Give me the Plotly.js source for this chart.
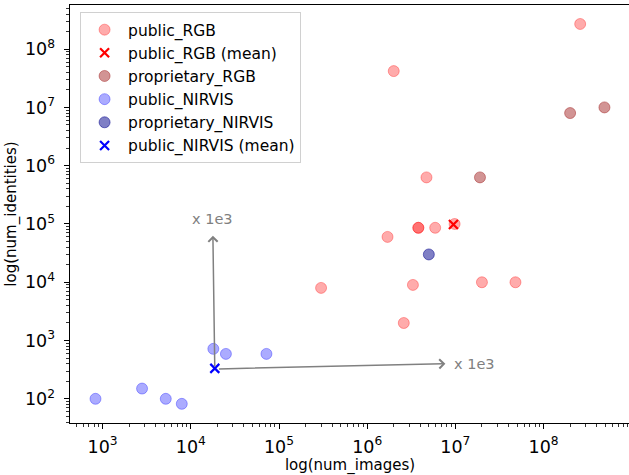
<!DOCTYPE html>
<html>
<head>
<meta charset="utf-8">
<script src="https://cdn.plot.ly/plotly-3.0.1.min.js"></script>
<style>
html,body{margin:0;padding:0;overflow:hidden;background:#fff;}
#chart{width:640px;height:475px;}
</style>
</head>
<body>
<div id="chart"></div>
<script>
// ---- data ----
const publicRGB_images     = [2.6e8, 2.0e6, 4.7e6, 1.7e6, 3.8e6, 3.8e6, 5.9e6, 9.8e6, 3.3e6, 2.0e7, 4.8e7, 2.6e6, 3.0e5];
const publicRGB_identities = [2.7e8, 4.2e7, 6.3e5, 6.0e4, 8.6e4, 8.6e4, 8.6e4, 1.0e5, 9.0e3, 1.0e4, 1.0e4, 2.0e3, 8.0e3];
const publicRGB_mean       = [9.5e6, 9.8e4];
const propRGB_images       = [1.9e7, 2.0e8, 4.9e8];
const propRGB_identities   = [6.3e5, 8.0e6, 1.0e7];
const publicNIR_images     = [830, 2800, 5200, 7900, 18000, 25000, 72000];
const publicNIR_identities = [100, 150, 100, 82, 720, 590, 590];
const propNIR_images       = [5.0e6];
const propNIR_identities   = [3.0e4];
const publicNIR_mean       = [1.87e4, 333];
// arrow tips (x 1e3 annotations)
const arrowUpTip    = [1.78e4, 6.3e4];
const arrowRightTip = [7.7e6, 400];
const arrowLabel    = "x 1e3";

const FF = "DejaVu Sans, sans-serif";
const L = Math.log10;

function circles(name, x, y, color) {
  return {type: "scatter", mode: "markers", name, x, y,
    marker: {symbol: "circle", size: 11, color: color, line: {color: color, width: 1}}};
}
function cross(name, pt, color) {
  return {type: "scatter", mode: "markers", name, x: [pt[0]], y: [pt[1]],
    marker: {symbol: "x-thin", size: 9, line: {color: color, width: 2.2}, color: color}};
}

const traces = [
  circles("public_RGB", publicRGB_images, publicRGB_identities, "rgba(255,0,0,0.33)"),
  cross("public_RGB (mean)", publicRGB_mean, "#ff0000"),
  circles("proprietary_RGB", propRGB_images, propRGB_identities, "rgba(165,42,42,0.5)"),
  circles("public_NIRVIS", publicNIR_images, publicNIR_identities, "rgba(0,0,255,0.33)"),
  circles("proprietary_NIRVIS", propNIR_images, propNIR_identities, "rgba(0,0,139,0.5)"),
  cross("public_NIRVIS (mean)", publicNIR_mean, "#0000ff")
];

const grey = "#808080";
const annotations = [
  {x: L(arrowUpTip[0]), y: L(arrowUpTip[1]), ax: L(publicNIR_mean[0]), ay: L(publicNIR_mean[1]),
   xref: "x", yref: "y", axref: "x", ayref: "y", text: "", showarrow: true,
   arrowhead: 4, arrowsize: 1.2, arrowwidth: 1.5, arrowcolor: grey, standoff: 0, startstandoff: 0},
  {x: L(arrowRightTip[0]), y: L(arrowRightTip[1]), ax: L(publicNIR_mean[0]) + 0.03, ay: L(publicNIR_mean[1]) - 0.01,
   xref: "x", yref: "y", axref: "x", ayref: "y", text: "", showarrow: true,
   arrowhead: 4, arrowsize: 1.2, arrowwidth: 1.5, arrowcolor: grey, standoff: 0, startstandoff: 0},
  {x: L(arrowUpTip[0]), y: L(arrowUpTip[1]) + 0.12, xref: "x", yref: "y", text: arrowLabel,
   showarrow: false, font: {family: FF, size: 14.5, color: grey}, xanchor: "center", yanchor: "bottom"},
  {x: L(arrowRightTip[0]) + 0.08, y: L(arrowRightTip[1]), xref: "x", yref: "y", text: arrowLabel,
   showarrow: false, font: {family: FF, size: 14.5, color: grey}, xanchor: "left", yanchor: "middle"}
];

const axisCommon = {
  type: "log", dtick: 1, exponentformat: "power", showexponent: "all",
  showgrid: false, zeroline: false, showline: true, linecolor: "#000", linewidth: 1.2,
  mirror: true, ticks: "outside", ticklen: 5, tickwidth: 1, tickcolor: "#000",
  tickfont: {family: FF, size: 14, color: "#000"},
  minor: {ticks: "outside", ticklen: 3, tickwidth: 0.8, tickcolor: "#000", dtick: "D1", showgrid: false}
};

const layout = {
  width: 640, height: 475,
  margin: {l: 70, r: 10, t: 5, b: 52},
  paper_bgcolor: "#fff", plot_bgcolor: "#fff",
  font: {family: FF, size: 15, color: "#000"},
  showlegend: true,
  xaxis: Object.assign({}, axisCommon, {
    range: [2.63, 8.98], ticklabelstandoff: 3,
    title: {text: "log(num_images)", font: {family: FF, size: 15}, standoff: 7}
  }),
  yaxis: Object.assign({}, axisCommon, {
    range: [1.585, 8.757], ticklabelstandoff: 6,
    title: {text: "log(num_identities)", font: {family: FF, size: 15}, standoff: 4}
  }),
  legend: {x: 0.018, y: 0.983, xanchor: "left", yanchor: "top",
    bgcolor: "rgba(255,255,255,0.85)", bordercolor: "#d0d0d0", borderwidth: 1,
    font: {family: FF, size: 15.5}, itemwidth: 37, tracegroupgap: 0},
  annotations: annotations
};

Plotly.newPlot("chart", traces, layout, {displayModeBar: false, staticPlot: true});
</script>
</body>
</html>
